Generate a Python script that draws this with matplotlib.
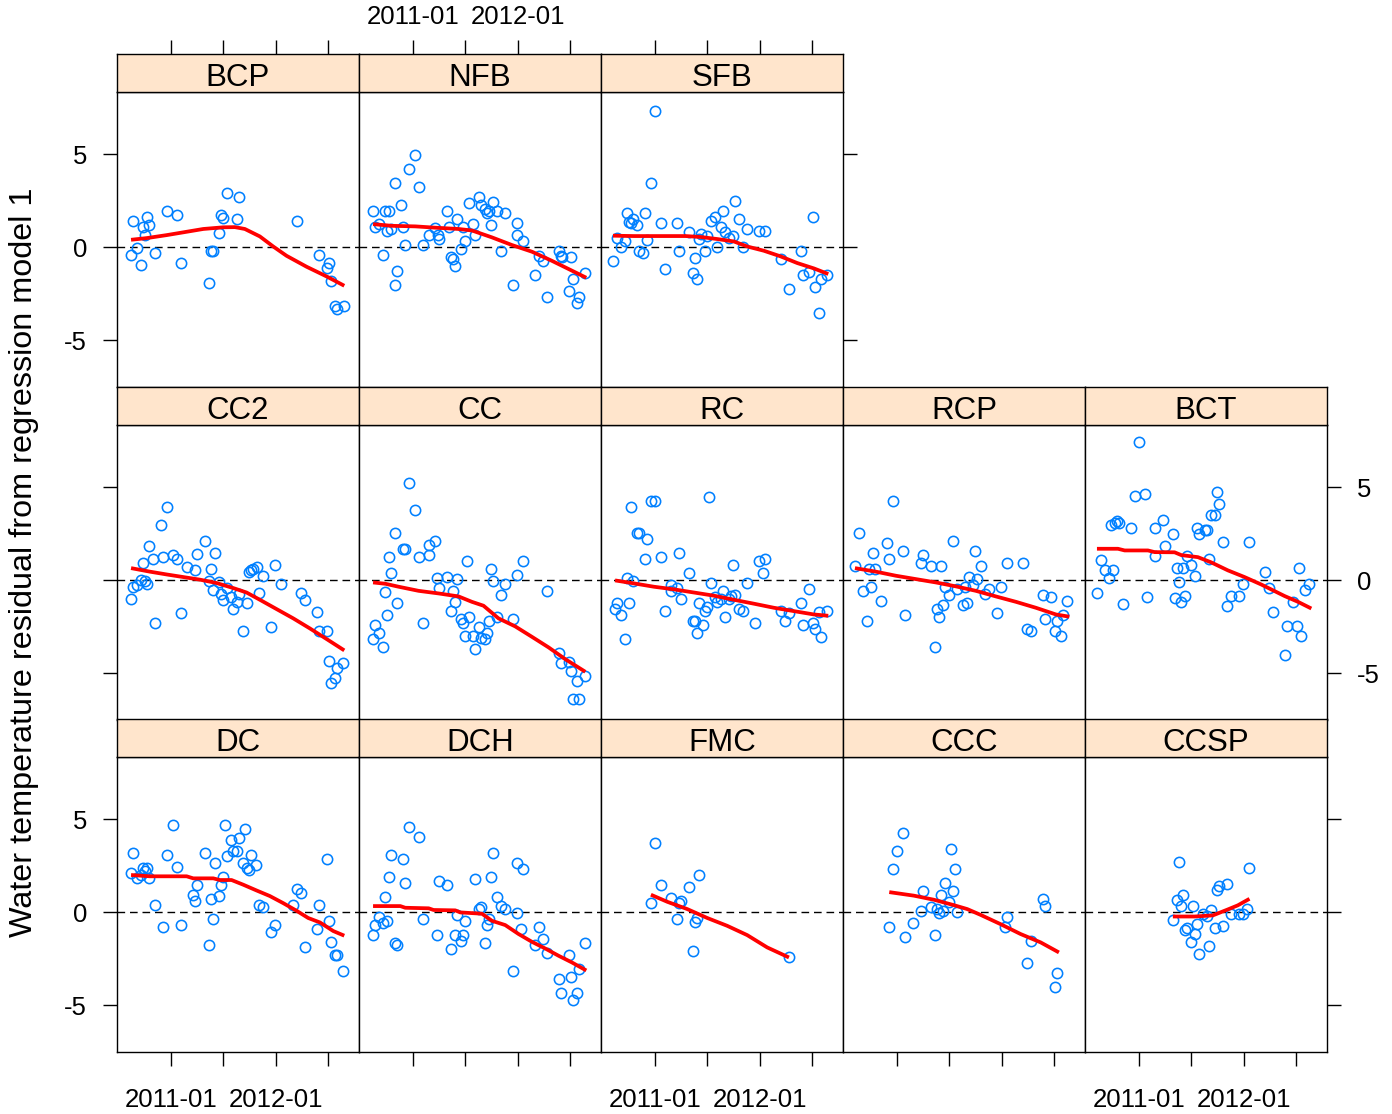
import numpy as np
import datetime
import matplotlib
matplotlib.use('Agg')
import matplotlib.pyplot as plt
import matplotlib.dates as mdates

plt.rcParams['font.family'] = ['Liberation Sans', 'DejaVu Sans']

# ---------------- data (x in decimal years, y = residual, deg C) ----------------
bcp_x = [2010.632, 2010.766, 2010.728, 2010.788, 2010.753, 2010.677, 2010.617, 2010.712, 2010.845, 2010.959,
         2011.055, 2011.093, 2011.363, 2011.378, 2011.394, 2011.455, 2011.474, 2011.496, 2011.531, 2011.648,
         2011.629, 2012.197, 2012.410, 2012.505, 2012.486, 2012.521, 2012.563, 2012.582, 2012.642]
bcp_y = [1.42, 1.65, 1.11, 1.20, 0.68, -0.05, -0.43, -0.93, -0.30, 1.97, 1.74, -0.84, -1.92, -0.18, -0.20,
         0.75, 1.74, 1.59, 2.94, 2.69, 1.52, 1.42, -0.41, -0.84, -1.13, -1.81, -3.17, -3.30, -3.17]
bcp_sx = [2010.617, 2010.766, 2010.956, 2011.115, 2011.305, 2011.496, 2011.607, 2011.702, 2011.845, 2011.972,
          2012.099, 2012.290, 2012.480, 2012.648]
bcp_sy = [0.41, 0.50, 0.66, 0.81, 0.99, 1.08, 1.09, 0.99, 0.59, 0.05, -0.45, -1.04, -1.56, -2.06]

nfb_x = [2010.617, 2010.632, 2010.677, 2010.728, 2010.772, 2010.750, 2010.788, 2010.712, 2010.829, 2010.883,
         2010.902, 2010.924, 2010.845, 2010.829, 2010.959, 2011.020, 2011.055, 2011.093, 2011.150, 2011.210,
         2011.232, 2011.248, 2011.321, 2011.340, 2011.417, 2011.363, 2011.378, 2011.397, 2011.458, 2011.477,
         2011.496, 2011.531, 2011.572, 2011.591, 2011.629, 2011.648, 2011.683, 2011.705, 2011.724, 2011.763,
         2011.801, 2011.743, 2011.877, 2011.836, 2011.988, 2011.991, 2012.048, 2011.950, 2012.163, 2012.197,
         2012.232, 2012.274, 2012.385, 2012.404, 2012.417, 2012.505, 2012.521, 2012.483, 2012.578, 2012.559,
         2012.639]
nfb_y = [1.97, 1.11, 1.24, 1.97, 1.97, 0.90, 0.99, -0.41, 3.46, 2.28, 1.11, 0.14, -1.27, -2.01, 4.21, 4.98,
         3.24, 0.13, 0.68, 1.02, 0.68, 0.45, 1.97, 1.11, 1.52, -0.50, -0.63, -1.02, -0.09, 1.11, 0.36, 2.38,
         1.24, 0.66, 2.71, 2.28, 2.06, 1.85, 1.97, 2.42, 1.97, 1.20, 1.85, -0.20, 1.31, 0.68, 0.34, -2.01,
         -1.47, -0.45, -0.75, -2.65, -0.20, -0.45, -0.54, -0.50, -1.70, -2.35, -2.65, -2.99, -1.36]
nfb_sx = [2010.617, 2010.797, 2011.020, 2011.210, 2011.432, 2011.559, 2011.750, 2011.940, 2012.131, 2012.321,
          2012.512, 2012.648]
nfb_sy = [1.25, 1.16, 1.13, 1.06, 0.99, 0.91, 0.54, 0.13, -0.23, -0.72, -1.25, -1.63]

sfb_x = [2010.597, 2010.632, 2010.677, 2010.712, 2010.734, 2010.753, 2010.772, 2010.791, 2010.829, 2010.845,
         2010.886, 2010.924, 2010.905, 2010.959, 2010.997, 2011.055, 2011.093, 2011.210, 2011.226, 2011.321,
         2011.382, 2011.363, 2011.401, 2011.417, 2011.436, 2011.474, 2011.496, 2011.531, 2011.572, 2011.591,
         2011.629, 2011.645, 2011.664, 2011.702, 2011.743, 2011.759, 2011.797, 2011.839, 2011.877, 2011.988,
         2012.048, 2012.197, 2012.274, 2012.385, 2012.404, 2012.464, 2012.505, 2012.521, 2012.578, 2012.559,
         2012.639]
sfb_y = [-0.73, 0.50, 0.04, 0.34, 1.85, 1.34, 1.29, 1.52, 1.20, -0.18, -0.30, 0.38, 1.86, 3.46, 7.35, 1.33,
         -1.15, 1.33, -0.18, 0.81, -0.59, -1.36, -1.70, 0.45, 0.72, -0.18, 0.59, 1.43, 1.65, 0.02, 1.11, 1.97,
         0.81, 0.48, 0.59, 2.49, 1.52, 0.02, 1.00, 0.90, 0.90, -0.63, -2.24, -0.18, -1.47, -1.31, 1.63, -2.11,
         -1.70, -3.51, -1.47]
sfb_sx = [2010.597, 2010.797, 2011.115, 2011.290, 2011.432, 2011.591, 2011.750, 2011.877, 2012.036, 2012.194,
          2012.353, 2012.512, 2012.648]
sfb_sy = [0.63, 0.61, 0.61, 0.61, 0.56, 0.45, 0.32, 0.05, -0.18, -0.48, -0.84, -1.13, -1.43]

cc2_x = [2010.617, 2010.632, 2010.677, 2010.712, 2010.734, 2010.753, 2010.772, 2010.788, 2010.829, 2010.848,
         2010.905, 2010.924, 2010.959, 2011.020, 2011.055, 2011.093, 2011.150, 2011.229, 2011.245, 2011.321,
         2011.382, 2011.363, 2011.417, 2011.401, 2011.458, 2011.477, 2011.496, 2011.534, 2011.572, 2011.591,
         2011.629, 2011.648, 2011.683, 2011.724, 2011.743, 2011.763, 2011.782, 2011.813, 2011.836, 2011.877,
         2011.950, 2011.991, 2012.048, 2012.236, 2012.277, 2012.388, 2012.407, 2012.486, 2012.505, 2012.578,
         2012.563, 2012.524, 2012.639]
cc2_y = [-1.02, -0.36, -0.22, 0.04, 0.91, -0.05, -0.20, 1.86, 1.13, -2.31, 2.96, 1.24, 3.92, 1.36, 1.13,
         -1.77, 0.70, 0.57, 1.43, 2.10, 0.61, -0.05, 1.45, -0.50, -0.11, -0.73, -1.04, -0.43, -0.91, -1.56,
         -1.18, -0.73, -2.74, -1.22, 0.47, 0.57, 0.61, 0.73, -0.70, 0.25, -2.53, 0.81, -0.18, -0.70, -1.04,
         -1.68, -2.74, -2.74, -4.35, -4.71, -5.23, -5.52, -4.46]
cc2_sx = [2010.617, 2010.797, 2010.956, 2011.115, 2011.274, 2011.432, 2011.591, 2011.718, 2011.845, 2012.004,
          2012.163, 2012.321, 2012.480, 2012.648]
cc2_sy = [0.66, 0.47, 0.32, 0.18, 0.04, -0.14, -0.41, -0.65, -1.04, -1.54, -2.04, -2.58, -3.15, -3.76]

cc_x = [2010.617, 2010.632, 2010.677, 2010.712, 2010.734, 2010.753, 2010.772, 2010.788, 2010.829, 2010.848,
        2010.902, 2010.924, 2010.959, 2011.020, 2011.055, 2011.093, 2011.150, 2011.150, 2011.210, 2011.226,
        2011.245, 2011.321, 2011.382, 2011.401, 2011.420, 2011.363, 2011.458, 2011.477, 2011.496, 2011.515,
        2011.534, 2011.572, 2011.591, 2011.629, 2011.648, 2011.683, 2011.705, 2011.724, 2011.743, 2011.763,
        2011.801, 2011.836, 2011.877, 2011.950, 2011.991, 2012.048, 2012.277, 2012.388, 2012.407, 2012.486,
        2012.505, 2012.563, 2012.639, 2012.524, 2012.582]
cc_y = [-3.17, -2.42, -2.83, -3.60, -0.61, -1.88, 1.24, 0.38, 2.54, -1.24, 1.68, 1.68, 5.22, 3.80, 1.24,
        -2.31, 1.34, 1.88, 2.11, 0.11, -0.41, 0.16, -0.56, -1.15, 0.07, -1.67, -2.10, -2.31, -2.96, 1.02,
        -1.99, -2.96, -3.71, -2.53, -3.10, -3.17, -2.81, -2.19, 0.59, -0.05, -1.99, -0.81, -0.18, -2.10,
        0.27, 1.02, -0.59, -3.91, -4.46, -4.41, -4.89, -5.43, -5.11, -6.38, -6.38]
cc_sx = [2010.617, 2010.734, 2010.861, 2011.051, 2011.242, 2011.432, 2011.559, 2011.670, 2011.813, 2011.972,
         2012.131, 2012.290, 2012.448, 2012.639]
cc_sy = [-0.11, -0.18, -0.34, -0.56, -0.70, -0.86, -1.15, -1.36, -2.04, -2.47, -3.03, -3.60, -4.23, -4.91]

rc_x = [2010.617, 2010.632, 2010.677, 2010.712, 2010.734, 2010.753, 2010.772, 2010.788, 2010.829, 2010.848,
        2010.905, 2010.924, 2010.959, 2010.997, 2011.055, 2011.093, 2011.150, 2011.150, 2011.210, 2011.226,
        2011.245, 2011.321, 2011.363, 2011.382, 2011.401, 2011.420, 2011.458, 2011.477, 2011.496, 2011.512,
        2011.534, 2011.572, 2011.591, 2011.629, 2011.648, 2011.667, 2011.705, 2011.724, 2011.743, 2011.763,
        2011.801, 2011.839, 2011.877, 2011.950, 2011.991, 2012.048, 2012.026, 2012.197, 2012.236, 2012.274,
        2012.388, 2012.410, 2012.464, 2012.505, 2012.524, 2012.563, 2012.578, 2012.639]
rc_y = [-1.54, -1.22, -1.88, -3.17, 0.11, -1.24, 3.92, -0.05, 2.54, 2.54, 1.13, 2.20, 4.25, 4.25, 1.24,
        -1.67, -0.25, -0.59, -0.43, 1.45, -1.02, 0.38, -2.20, -2.20, -2.85, -1.24, -2.42, -1.67, -1.45, 4.46,
        -0.16, -0.91, -1.15, -1.00, -0.57, -1.99, -1.00, -0.86, 0.82, -0.79, -1.56, -1.67, -0.16, -2.31,
        1.02, 1.13, 0.38, -1.67, -2.20, -1.77, -1.24, -2.42, -0.48, -2.31, -2.63, -1.72, -3.06, -1.65]
rc_sx = [2010.617, 2010.797, 2010.988, 2011.178, 2011.369, 2011.559, 2011.750, 2011.940, 2012.131, 2012.321,
         2012.512, 2012.648]
rc_sy = [0.00, -0.16, -0.34, -0.48, -0.65, -0.82, -1.04, -1.25, -1.47, -1.65, -1.83, -1.90]

rcp_x = [2010.597, 2010.632, 2010.677, 2010.712, 2010.734, 2010.753, 2010.772, 2010.791, 2010.848, 2010.902,
         2010.924, 2010.959, 2011.055, 2011.074, 2011.229, 2011.245, 2011.321, 2011.363, 2011.382, 2011.401,
         2011.417, 2011.436, 2011.458, 2011.496, 2011.531, 2011.572, 2011.629, 2011.667, 2011.648, 2011.683,
         2011.724, 2011.740, 2011.763, 2011.801, 2011.839, 2011.877, 2011.950, 2011.991, 2012.048, 2012.197,
         2012.236, 2012.277, 2012.388, 2012.410, 2012.467, 2012.505, 2012.524, 2012.563, 2012.582, 2012.620]
rcp_y = [0.79, 2.54, -0.59, -2.20, 0.59, -0.36, 1.45, 0.61, -1.13, 1.99, 1.13, 4.25, 1.56, -1.88, 0.91,
         1.34, 0.79, -3.60, -1.56, -1.99, 0.79, -1.34, -0.36, -0.81, 2.10, -0.48, -1.34, -1.24, -0.36, 0.18,
         -0.27, 1.56, 0.07, 0.79, -0.72, -0.48, -1.77, -0.36, 0.91, 0.91, -2.63, -2.74, -0.81, -2.10, -0.91,
         -2.74, -2.20, -2.96, -1.88, -1.13]
rcp_sx = [2010.597, 2010.797, 2010.988, 2011.178, 2011.369, 2011.559, 2011.750, 2011.940, 2012.131, 2012.321,
          2012.512, 2012.639]
rcp_sy = [0.66, 0.47, 0.25, 0.07, -0.11, -0.32, -0.56, -0.86, -1.15, -1.47, -1.83, -1.95]

bct_x = [2010.597, 2010.632, 2010.677, 2010.712, 2010.753, 2010.734, 2010.772, 2010.791, 2010.810, 2010.848,
         2010.924, 2010.959, 2010.997, 2011.055, 2011.074, 2011.150, 2011.150, 2011.226, 2011.245, 2011.321,
         2011.340, 2011.363, 2011.382, 2011.401, 2011.420, 2011.439, 2011.458, 2011.496, 2011.534, 2011.553,
         2011.572, 2011.629, 2011.648, 2011.667, 2011.683, 2011.724, 2011.740, 2011.763, 2011.801, 2011.839,
         2011.877, 2011.950, 2011.991, 2012.048, 2012.197, 2012.236, 2012.277, 2012.388, 2012.407, 2012.467,
         2012.505, 2012.524, 2012.543, 2012.578, 2012.620]
bct_y = [-0.70, 1.11, 0.57, 0.13, 0.57, 2.97, 3.08, 3.17, 3.06, -1.25, 2.81, 4.55, 7.46, 4.64, -0.91, 1.33,
         2.81, 3.24, 1.86, 2.51, -0.93, 0.68, -0.07, -1.15, 0.68, -0.82, 1.33, 0.81, 0.25, 2.83, 2.51, 2.71,
         2.72, 1.15, 3.49, 3.49, 4.77, 4.12, 2.08, -1.36, -0.82, -0.82, -0.20, 2.08, 0.47, -0.39, -1.68,
         -4.03, -2.44, -1.15, -2.44, 0.68, -2.96, -0.50, -0.20]
bct_sx = [2010.597, 2010.797, 2010.861, 2011.083, 2011.147, 2011.337, 2011.401, 2011.559, 2011.686, 2011.845,
          2012.004, 2012.163, 2012.385, 2012.512, 2012.639]
bct_sy = [1.70, 1.70, 1.61, 1.61, 1.52, 1.51, 1.36, 1.25, 0.97, 0.54, 0.18, -0.22, -0.84, -1.15, -1.51]

dc_x = [2010.617, 2010.632, 2010.677, 2010.712, 2010.734, 2010.753, 2010.772, 2010.791, 2010.848, 2010.924,
        2010.959, 2011.020, 2011.055, 2011.093, 2011.207, 2011.226, 2011.245, 2011.321, 2011.363, 2011.382,
        2011.401, 2011.420, 2011.458, 2011.477, 2011.496, 2011.512, 2011.531, 2011.572, 2011.591, 2011.629,
        2011.648, 2011.705, 2011.683, 2011.724, 2011.743, 2011.763, 2011.810, 2011.839, 2011.877, 2011.950,
        2011.991, 2012.163, 2012.197, 2012.236, 2012.277, 2012.388, 2012.410, 2012.486, 2012.505, 2012.524,
        2012.563, 2012.582, 2012.639]
dc_y = [2.10, 3.19, 1.86, 1.99, 2.40, 2.22, 2.40, 1.86, 0.38, -0.79, 3.08, 4.68, 2.42, -0.68, 0.91, 0.59,
        1.45, 3.19, -1.76, 0.70, -0.38, 2.63, 0.90, 1.45, 1.88, 4.68, 3.05, 3.91, 3.28, 3.28, 4.01, 4.46,
        2.63, 2.40, 2.29, 3.08, 2.53, 0.38, 0.27, -1.04, -0.70, 0.38, 1.24, 1.02, -1.86, -0.91, 0.38, 2.85,
        -0.48, -1.58, -2.29, -2.29, -3.17]
dc_sx = [2010.617, 2010.797, 2011.147, 2011.210, 2011.401, 2011.464, 2011.575, 2011.686, 2011.813, 2011.940,
         2012.067, 2012.194, 2012.305, 2012.417, 2012.543, 2012.648]
dc_sy = [2.01, 1.94, 1.94, 1.83, 1.83, 1.74, 1.74, 1.49, 1.18, 0.88, 0.50, 0.09, -0.30, -0.54, -1.00, -1.25]

dch_x = [2010.617, 2010.632, 2010.677, 2010.712, 2010.734, 2010.753, 2010.772, 2010.788, 2010.829, 2010.848,
         2010.902, 2010.924, 2010.959, 2011.055, 2011.093, 2011.226, 2011.245, 2011.321, 2011.363, 2011.401,
         2011.420, 2011.458, 2011.477, 2011.496, 2011.591, 2011.629, 2011.648, 2011.683, 2011.705, 2011.724,
         2011.743, 2011.763, 2011.801, 2011.839, 2011.877, 2011.950, 2011.991, 2011.991, 2012.029, 2012.048,
         2012.163, 2012.197, 2012.236, 2012.277, 2012.388, 2012.407, 2012.486, 2012.505, 2012.524, 2012.563,
         2012.582, 2012.639]
dch_y = [-1.24, -0.70, -0.27, -0.59, 0.81, -0.48, 1.88, 3.06, -1.67, -1.77, 2.85, 1.56, 4.57, 4.03, -0.38,
         -1.24, 1.67, 1.45, -1.99, -1.24, -0.16, -1.56, -1.22, -0.48, 1.77, 0.16, 0.27, -1.67, -0.70, -0.36,
         1.88, 3.19, 0.81, 0.36, 0.16, -3.17, 2.63, -0.05, -0.91, 2.31, -1.77, -0.81, -1.45, -2.20, -3.60,
         -4.35, -2.31, -3.49, -4.68, -4.35, -3.06, -1.67]
dch_sx = [2010.617, 2010.877, 2010.924, 2011.147, 2011.194, 2011.401, 2011.448, 2011.655, 2011.750, 2011.877,
          2012.004, 2012.131, 2012.258, 2012.385, 2012.512, 2012.648]
dch_sy = [0.34, 0.34, 0.25, 0.22, 0.13, 0.11, 0.00, -0.07, -0.45, -0.68, -1.16, -1.58, -1.94, -2.33, -2.69,
          -3.12]

fmc_x = [2010.959, 2010.997, 2011.055, 2011.150, 2011.229, 2011.245, 2011.207, 2011.321, 2011.382, 2011.401,
         2011.363, 2011.417, 2012.274]
fmc_y = [0.48, 3.71, 1.45, 0.75, 0.48, 0.59, -0.38, 1.34, -0.50, -0.29, -2.10, 1.99, -2.42]
fmc_sx = [2010.959, 2011.115, 2011.305, 2011.496, 2011.686, 2011.877, 2012.067, 2012.274]
fmc_sy = [0.95, 0.57, 0.18, -0.30, -0.72, -1.22, -1.88, -2.42]

ccc_x = [2010.924, 2010.959, 2010.997, 2011.055, 2011.074, 2011.150, 2011.226, 2011.245, 2011.321, 2011.359,
         2011.378, 2011.397, 2011.417, 2011.436, 2011.458, 2011.496, 2011.509, 2011.534, 2011.553, 2011.572,
         2012.026, 2012.045, 2012.239, 2012.274, 2012.391, 2012.410, 2012.524, 2012.499]
ccc_y = [-0.79, 2.33, 3.28, 4.25, -1.33, -0.59, 0.05, 1.13, 0.27, -1.22, 0.18, -0.05, 0.93, 0.07, 1.56, 0.54,
         3.39, 1.13, 2.33, 0.00, -0.81, -0.27, -2.72, -1.56, 0.72, 0.36, -3.26, -4.03]
ccc_sx = [2010.924, 2011.159, 2011.350, 2011.540, 2011.667, 2011.794, 2011.985, 2012.175, 2012.366, 2012.540]
ccc_sy = [1.09, 0.90, 0.68, 0.39, 0.18, -0.13, -0.63, -1.16, -1.61, -2.15]

ccsp_x = [2011.378, 2011.321, 2011.359, 2011.397, 2011.417, 2011.436, 2011.455, 2011.493, 2011.512, 2011.531,
          2011.553, 2011.572, 2011.610, 2011.648, 2011.667, 2011.683, 2011.721, 2011.740, 2011.759, 2011.801,
          2011.839, 2011.877, 2011.950, 2011.991, 2012.029, 2012.045]
ccsp_y = [2.72, -0.39, 0.68, 0.36, 0.91, -0.93, -0.82, -1.58, 0.36, -1.15, -0.61, -2.22, -0.07, -0.18, -1.79,
          0.14, -0.82, 1.22, 1.43, -0.72, 1.54, -0.07, -0.07, -0.07, 0.16, 2.40]
ccsp_sx = [2011.321, 2011.528, 2011.702, 2011.845, 2011.940, 2012.051]
ccsp_sy = [-0.22, -0.22, -0.16, 0.16, 0.38, 0.73]

panels = [
    ("BCP", 0, 0, bcp_x, bcp_y, bcp_sx, bcp_sy),
    ("NFB", 0, 1, nfb_x, nfb_y, nfb_sx, nfb_sy),
    ("SFB", 0, 2, sfb_x, sfb_y, sfb_sx, sfb_sy),
    ("CC2", 1, 0, cc2_x, cc2_y, cc2_sx, cc2_sy),
    ("CC", 1, 1, cc_x, cc_y, cc_sx, cc_sy),
    ("RC", 1, 2, rc_x, rc_y, rc_sx, rc_sy),
    ("RCP", 1, 3, rcp_x, rcp_y, rcp_sx, rcp_sy),
    ("BCT", 1, 4, bct_x, bct_y, bct_sx, bct_sy),
    ("DC", 2, 0, dc_x, dc_y, dc_sx, dc_sy),
    ("DCH", 2, 1, dch_x, dch_y, dch_sx, dch_sy),
    ("FMC", 2, 2, fmc_x, fmc_y, fmc_sx, fmc_sy),
    ("CCC", 2, 3, ccc_x, ccc_y, ccc_sx, ccc_sy),
    ("CCSP", 2, 4, ccsp_x, ccsp_y, ccsp_sx, ccsp_sy),
]
row_last_col = {0: 2, 1: 4, 2: 4}

tick_dates = [datetime.datetime(2011, 1, 1), datetime.datetime(2011, 7, 1),
              datetime.datetime(2012, 1, 1), datetime.datetime(2012, 7, 1)]
tick_labels = ["2011-01", "", "2012-01", ""]
y_ticks = [-5, 0, 5]
y_labels = ["-5", "0", "5"]
ylabel_text = "Water temperature residual from regression model 1"


def dec_to_num(vals):
    out = []
    for v in vals:
        yr = int(np.floor(v))
        start = mdates.date2num(datetime.datetime(yr, 1, 1))
        end = mdates.date2num(datetime.datetime(yr + 1, 1, 1))
        out.append(start + (v - yr) * (end - start))
    return np.array(out)


W, H = 1392, 1114
fig = plt.figure(figsize=(W / 100, H / 100), dpi=100)

col_left = [117, 359, 601, 843, 1085]
PW = 242
panel_top = [92, 425, 757]
PH = 295
SH = 38
xlim = tuple(dec_to_num([2010.483, 2012.788]))
ylim = (-7.5, 8.35)
tick_num = mdates.date2num(tick_dates)

TICK_LEN = 10
TICK_FS = 18.5
STRIP_FS = 22.5
PT_COL = '#0080ff'


def rect(x0, ytop, w, h):
    return [x0 / W, 1 - (ytop + h) / H, w / W, h / H]


for name, r, c, xs, ys, sxs, sys_ in panels:
    ax = fig.add_axes(rect(col_left[c], panel_top[r], PW, PH))
    ax.axhline(0, color='black', lw=1.0, ls=(0, (5.5, 3.5)), zorder=1)
    ax.plot(dec_to_num(xs), ys, 'o', mfc='none', mec=PT_COL, ms=7.4, mew=1.15, zorder=2)
    ax.plot(dec_to_num(sxs), sys_, color='red', lw=2.7, zorder=3,
            solid_capstyle='butt', solid_joinstyle='round')
    ax.set_xlim(xlim)
    ax.set_ylim(ylim)
    for sp in ax.spines.values():
        sp.set_linewidth(1.0)

    # x axis (bottom row only)
    ax.set_xticks(tick_num)
    if r == 2:
        ax.set_xticklabels(tick_labels if c % 2 == 0 else [""] * 4)
        ax.tick_params(axis='x', bottom=True, direction='out', length=TICK_LEN, width=1.0,
                       labelsize=TICK_FS, pad=16)
    else:
        ax.tick_params(axis='x', bottom=False, labelbottom=False)

    # y axis
    ax.set_yticks(y_ticks)
    left_on = (c == 0)
    right_on = (c == row_last_col[r])
    ax.tick_params(axis='y', left=left_on, right=right_on, direction='out', length=TICK_LEN,
                   width=1.0, labelsize=TICK_FS, pad=11.5,
                   labelleft=(left_on and r != 1), labelright=(right_on and r == 1))
    ax.set_yticklabels(y_labels)

    # strip
    sax = fig.add_axes(rect(col_left[c], panel_top[r] - SH, PW, SH))
    sax.set_facecolor('#ffe5cc')
    sax.set_xlim(xlim)
    sax.set_ylim(0, 1)
    sax.set_yticks([])
    for sp in sax.spines.values():
        sp.set_linewidth(1.0)
    sax.text(0.5, 0.38, name, transform=sax.transAxes, ha='center', va='center', fontsize=STRIP_FS)
    sax.set_xticks(tick_num)
    if r == 0:
        sax.xaxis.tick_top()
        sax.set_xticklabels(tick_labels if c % 2 == 1 else [""] * 4)
        sax.tick_params(axis='x', top=True, bottom=False, direction='out', length=TICK_LEN,
                        width=1.0, labelsize=TICK_FS, pad=8, labelbottom=False)
    else:
        sax.tick_params(axis='x', top=False, bottom=False, labeltop=False, labelbottom=False)

fig.text(24 / W, 1 - 562 / H, ylabel_text, rotation=90, ha='center', va='center', fontsize=23.3)

fig.savefig('out.png', dpi=100)
